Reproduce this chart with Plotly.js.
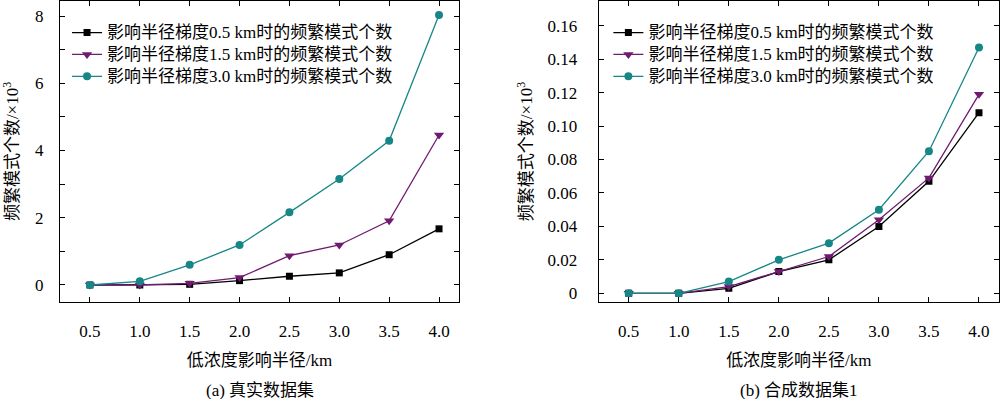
<!DOCTYPE html>
<html>
<head>
<meta charset="utf-8">
<script src="https://cdn.plot.ly/plotly-3.0.1.min.js"></script>
<style>html,body{margin:0;padding:0;background:#fff;}#chart{width:1000px;height:399px;}</style>
</head>
<body>
<div id="chart"></div>
<script>
// ---- data ----
const radius = [0.5, 1.0, 1.5, 2.0, 2.5, 3.0, 3.5, 4.0];
const xTickLabels = ["0.5", "1.0", "1.5", "2.0", "2.5", "3.0", "3.5", "4.0"];

const seriesNames = [
  "影响半径梯度0.5 km时的频繁模式个数",
  "影响半径梯度1.5 km时的频繁模式个数",
  "影响半径梯度3.0 km时的频繁模式个数"
];

// (a) real dataset, ×10^3
const realGrad05 = [0, 0, 0.02, 0.13, 0.26, 0.36, 0.90, 1.67];
const realGrad15 = [0, 0, 0.05, 0.22, 0.87, 1.19, 1.91, 4.46];
const realGrad30 = [0, 0.11, 0.60, 1.19, 2.16, 3.15, 4.29, 8.03];

// (b) synthetic dataset 1, ×10^3
const synGrad05 = [0, 0, 0.003, 0.013, 0.020, 0.040, 0.067, 0.108];
const synGrad15 = [0, 0, 0.004, 0.013, 0.022, 0.044, 0.069, 0.119];
const synGrad30 = [0, 0, 0.007, 0.020, 0.030, 0.050, 0.085, 0.147];

const yTickValsA = [0, 2, 4, 6, 8];
const yTickLabelsA = ["0", "2", "4", "6", "8"];
const yTickValsB = [0, 0.02, 0.04, 0.06, 0.08, 0.10, 0.12, 0.14, 0.16];
const yTickLabelsB = ["0", "0.02", "0.04", "0.06", "0.08", "0.10", "0.12", "0.14", "0.16"];

const xTitle = "低浓度影响半径/km";
const yTitle = "频繁模式个数/×10<sup>3</sup>";
const subTitleA = "(a) 真实数据集";
const subTitleB = "(b) 合成数据集1";

// ---- style ----
const FONT = "Liberation Serif, Noto Sans CJK SC, serif";
const colors = ["#000000", "#701a70", "#178686"];
const symbols = ["square", "triangle-down", "circle"];
const msizes = [7, 9, 8];

function mk(y, i, xa, ya, leg) {
  return {
    x: radius, y: y, type: "scatter", mode: "lines+markers",
    name: '<span style="font-size:17px">' + seriesNames[i] + '</span>',
    xaxis: xa, yaxis: ya, legend: leg,
    line: {color: colors[i], width: 1.3},
    marker: {color: colors[i], symbol: symbols[i], size: msizes[i]}
  };
}

const data = [
  mk(realGrad05, 0, "x", "y", "legend"),
  mk(realGrad15, 1, "x", "y", "legend"),
  mk(realGrad30, 2, "x", "y", "legend"),
  mk(synGrad05, 0, "x2", "y2", "legend2"),
  mk(synGrad15, 1, "x2", "y2", "legend2"),
  mk(synGrad30, 2, "x2", "y2", "legend2")
];

function axisCommon() {
  return {
    showline: true, linecolor: "#000", linewidth: 1, mirror: "ticks",
    ticks: "inside", ticklen: 5, tickwidth: 1, tickcolor: "#000",
    showgrid: false, zeroline: false, automargin: false,
    tickfont: {family: FONT, size: 17, color: "#000"}
  };
}

function xBase() {
  return Object.assign(axisCommon(), {
    range: [0.2, 4.2], tickvals: radius, ticktext: xTickLabels,
    ticklabelstandoff: 14,
    title: {text: xTitle, font: {family: FONT, size: 17, color: "#000"}, standoff: 13}
  });
}

const legendFont = {family: FONT, size: 14.5, color: "#000"};

const layout = {
  width: 1000, height: 399,
  margin: {l: 60, r: 1, t: 1, b: 97},
  paper_bgcolor: "#fff", plot_bgcolor: "#fff",
  font: {family: FONT, size: 17, color: "#000"},
  showlegend: true,
  xaxis: Object.assign(xBase(), {domain: [0, 0.4249], anchor: "y"}),
  xaxis2: Object.assign(xBase(), {domain: [0.5737, 1.0], anchor: "y2"}),
  yaxis: Object.assign(axisCommon(), {
    domain: [0, 1], anchor: "x", range: [-0.506, 8.446],
    tickvals: yTickValsA, ticktext: yTickLabelsA, ticklabelstandoff: 12,
    minor: {dtick: 1, tick0: 1, ticks: "inside", ticklen: 5, tickcolor: "#000", showgrid: false},
    title: {text: yTitle, font: {family: FONT, size: 17, color: "#000"}, standoff: 26}
  }),
  yaxis2: Object.assign(axisCommon(), {
    domain: [0, 1], anchor: "x2", range: [-0.0052, 0.1748],
    tickvals: yTickValsB, ticktext: yTickLabelsB, ticklabelstandoff: 17,
    title: {text: yTitle, font: {family: FONT, size: 17, color: "#000"}, standoff: 10}
  }),
  legend: {
    x: 0.0075, y: 0.948, xanchor: "left", yanchor: "top",
    bgcolor: "rgba(0,0,0,0)", borderwidth: 0,
    font: legendFont, tracegroupgap: 0
  },
  legend2: {
    x: 0.584, y: 0.948, xanchor: "left", yanchor: "top",
    bgcolor: "rgba(0,0,0,0)", borderwidth: 0,
    font: legendFont, tracegroupgap: 0
  },
  annotations: [
    {text: subTitleA, xref: "paper", yref: "paper", x: 0.2125, y: -0.295, xanchor: "center", yanchor: "middle",
     showarrow: false, font: {family: FONT, size: 17, color: "#000"}},
    {text: subTitleB, xref: "paper", yref: "paper", x: 0.7868, y: -0.295, xanchor: "center", yanchor: "middle",
     showarrow: false, font: {family: FONT, size: 17, color: "#000"}}
  ]
};

Plotly.newPlot("chart", data, layout, {staticPlot: true, displayModeBar: false});
</script>
</body>
</html>
